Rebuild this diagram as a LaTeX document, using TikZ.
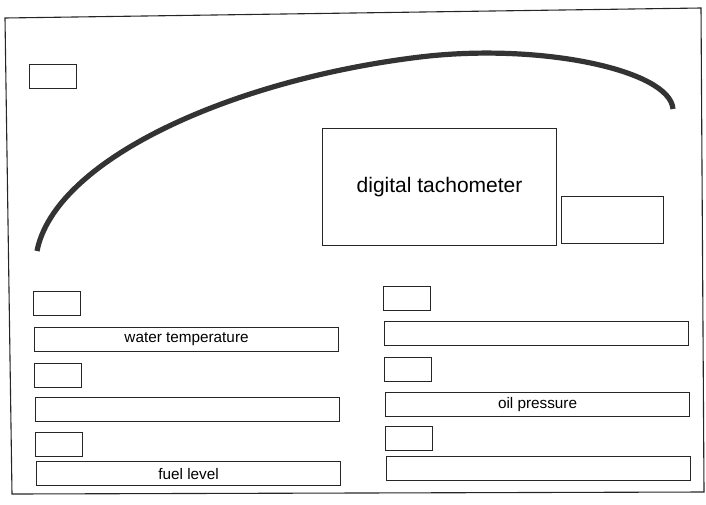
\documentclass[tikz,border=0pt]{standalone}
\usepackage{fontspec}
\setmainfont{Liberation Sans}
\tikzset{
  panel/.style={draw=black!85, line width=1.1pt},
  lamp/.style={panel, anchor=north west, inner sep=0pt, minimum width=47pt, minimum height=24pt},
  gauge/.style={panel, anchor=north west, inner sep=0pt, minimum width=304pt, minimum height=24pt, font=\fontsize{15.3}{18}\selectfont},
  dial/.style={line width=5.2pt, black!80, line cap=butt},
}
\begin{document}
\begin{tikzpicture}[x=1pt, y=-1pt]
  \useasboundingbox (0,0) rectangle (706,504);
  % outer frame of the dash panel
  \draw[panel] (5,18) -- (701,8) -- (704,492) -- (12,494) -- cycle;
  % top left warning lamp
  \node[lamp] (warn) at (29,64) {};
  % curved top of the binnacle
  \coordinate (arcL) at (37,251);
  \coordinate (arcT) at (420,57);
  \coordinate (arcR) at (673,109);
  \draw[dial] (arcL) .. controls (55,160) and (230,80) .. (arcT)
                     .. controls (540,42.5) and (670,70) .. (arcR);
  % tachometer and the box beside it
  \node[panel, anchor=north west, inner sep=0pt, minimum width=234pt, minimum height=117pt, font=\fontsize{21}{25}\selectfont] (tacho) at (322,128) {digital tachometer};
  \node[panel, anchor=north west, inner sep=0pt, minimum width=102pt, minimum height=47pt] (tachoaux) at (561,196) {};
  % left column: lamp above each gauge
  \foreach \n/\x/\ly/\gy/\t in {1/33/291/327/water temperature, 2/34/363/397/, 3/35/432/461/fuel level} {
    \node[lamp] (lampL\n) at (\x,\ly) {};
    \node[gauge] (gaugeL\n) at (\x+1,\gy) {\t};
  }
  % right column
  \foreach \n/\x/\ly/\gy/\t in {1/383/286/321/, 2/384/357/392/oil pressure, 3/385/426/456/} {
    \node[lamp] (lampR\n) at (\x,\ly) {};
    \node[gauge] (gaugeR\n) at (\x+1,\gy) {\t};
  }
\end{tikzpicture}
\end{document}
